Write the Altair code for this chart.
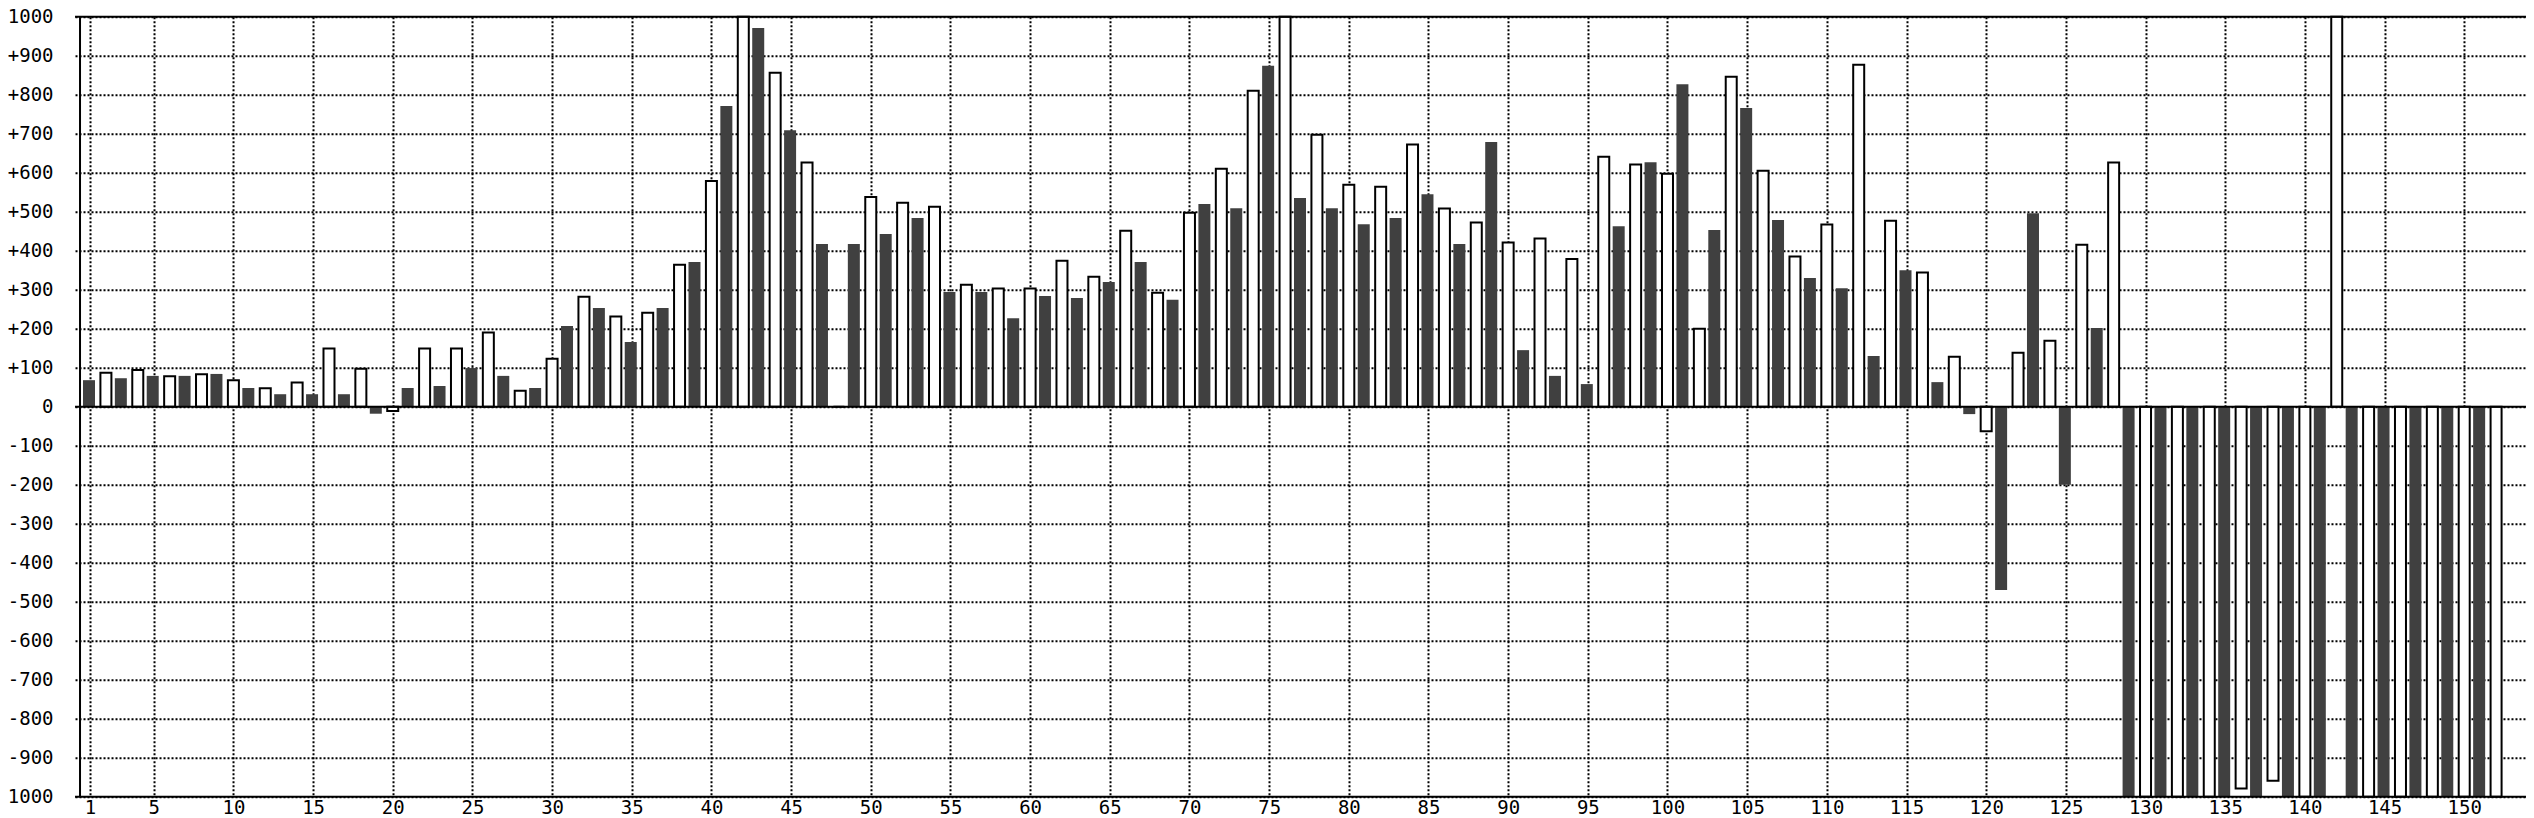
import altair as alt
import pandas as pd

# Odd positions (dark filled bars)
dark_index = list(range(1, 152, 2))
dark_values = [
    68, 73, 79, 79, 84, 48, 32, 32, 32, -18,
    48, 53, 99, 79, 48, 207, 253, 166, 253, 371,
    771, 971, 709, 417, 417, 443, 484, 294, 294, 227,
    284, 279, 320, 371, 274, 520, 509, 874, 535, 509,
    468, 484, 545, 417, 679, 145, 79, 58, 463, 627,
    827, 453, 766, 479, 330, 304, 130, 350, 63, -19,
    -470, 496, -200, 202,
    -1000, -1000, -1000, -1000, -1000, -1000, -1000, -1000, -1000, -1000, -1000, -1000,
]

# Even positions (white outlined bars)
light_index = list(range(2, 153, 2))
light_values = [
    87, 94, 78, 83, 68, 47, 62, 149, 97, -11,
    149, 149, 190, 41, 123, 282, 231, 241, 364, 579,
    1000, 856, 626, 0, 538, 523, 513, 313, 303, 303,
    374, 333, 451, 292, 497, 610, 810, 1000, 697, 569,
    564, 672, 508, 472, 421, 431, 379, 641, 621, 597,
    200, 846, 605, 385, 467, 877, 477, 344, 128, -63,
    138, 169, 415, 626,
    -1000, -1000, -1000, -979, -959, -1000, 1000, -1000, -1000, -1000, -1000, -1000,
]

x_ticks = [1] + list(range(5, 160, 5))
y_ticks = list(range(-1000, 1001, 100))

dark_df = pd.DataFrame({"i": dark_index, "v": dark_values})
light_df = pd.DataFrame({"i": light_index, "v": light_values})

FONT = "DejaVu Sans Mono"
X_MIN, X_MAX = 0.375, 153.5625

x_scale = alt.Scale(domain=[X_MIN, X_MAX], nice=False, zero=False)
y_scale = alt.Scale(domain=[-1000, 1000], nice=False, zero=False)

x_axis = alt.Axis(
    values=x_ticks, tickCount=len(x_ticks), format="d", title=None, grid=True,
    gridColor="black", gridDash=[2, 2], gridWidth=2, gridOpacity=1,
    ticks=False, tickSize=0, domain=False, labelFont=FONT, labelFontSize=19,
    labelColor="black", labelPadding=2, labelFlush=False, labelOverlap=False,
    labelAngle=0,
)
y_axis = alt.Axis(
    values=y_ticks, tickCount=len(y_ticks), title=None, grid=True,
    gridColor="black", gridDash=[2, 2], gridWidth=2, gridOpacity=1,
    ticks=False, tickSize=0, domain=False, labelFont=FONT, labelFontSize=19,
    labelColor="black", labelPadding=22, labelFlush=False, labelOverlap=False,
    labelExpr="datum.value > 0 ? '+' + datum.value : '' + datum.value",
)

dark = alt.Chart(dark_df).mark_bar(color="#404040", size=12, xOffset=-1).encode(
    x=alt.X("i:Q", scale=x_scale, axis=x_axis),
    y=alt.Y("v:Q", scale=y_scale, axis=y_axis, stack=None),
)

light = alt.Chart(light_df).mark_bar(
    fill="white", stroke="black", strokeWidth=2, size=11
).encode(
    x=alt.X("i:Q", scale=x_scale),
    y=alt.Y("v:Q", scale=y_scale, stack=None),
)

frame_y = alt.Chart(pd.DataFrame({"z": [-1000, 0, 1000]})).mark_rule(
    color="black", strokeWidth=2
).encode(y=alt.Y("z:Q", scale=y_scale))

frame_x = alt.Chart(pd.DataFrame({"z": [X_MIN]})).mark_rule(
    color="black", strokeWidth=2
).encode(x=alt.X("z:Q", scale=x_scale))

chart = (
    alt.layer(dark, light, frame_y, frame_x)
    .properties(
        width=2451,
        height=780,
        autosize=alt.AutoSizeParams(type="none"),
        padding={"left": 67, "top": 8.7, "right": 0, "bottom": 22},
        background="white",
    )
    .configure_view(stroke=None)
)

chart.save("out.html", embed_options={"renderer": "svg", "actions": False})
